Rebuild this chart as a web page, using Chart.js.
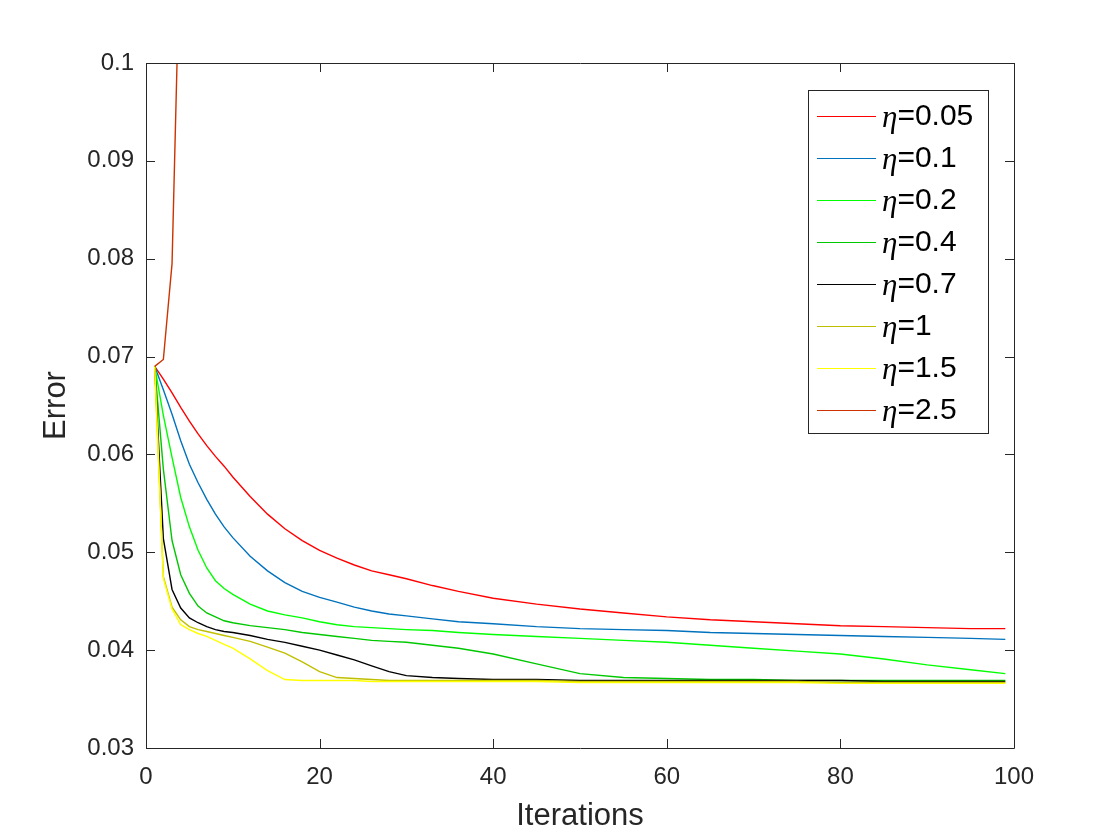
<!DOCTYPE html>
<html>
<head>
<meta charset="utf-8">
<script src="https://cdn.jsdelivr.net/npm/chart.js@4.4.1/dist/chart.umd.min.js"></script>
<style>
  html, body { margin: 0; padding: 0; background: #fff; }
  #wrap { width: 1120px; height: 840px; }
</style>
</head>
<body>
<div id="wrap"><canvas id="chart-line" width="1120" height="840"></canvas></div>
<script>
var iterations = [1,2,3,4,5,6,7,8,9,10,12,14,16,18,20,22,24,26,28,30,33,36,40,45,50,55,60,65,70,75,80,85,90,95,99];

var err005 = [0.0690,0.0677,0.0663,0.0648,0.0634,0.0621,0.0609,0.0598,0.0588,0.0577,0.0557,0.0539,0.0524,0.0512,0.0502,0.0494,0.0487,0.0481,0.0477,0.0473,0.0466,0.0460,0.0453,0.0447,0.0442,0.0438,0.0434,0.0431,0.0429,0.0427,0.0425,0.0424,0.0423,0.0422,0.0422];
var err01  = [0.0690,0.0666,0.0641,0.0614,0.0590,0.0571,0.0554,0.0539,0.0526,0.0515,0.0496,0.0481,0.0469,0.0460,0.0454,0.0449,0.0444,0.0440,0.0437,0.0435,0.0432,0.0429,0.0427,0.0424,0.0422,0.0421,0.0420,0.0418,0.0417,0.0416,0.0415,0.0414,0.0413,0.0412,0.0411];
var err02  = [0.0690,0.0640,0.0597,0.0556,0.0526,0.0502,0.0484,0.0471,0.0463,0.0457,0.0447,0.0440,0.0436,0.0433,0.0429,0.0426,0.0424,0.0423,0.0422,0.0421,0.0420,0.0418,0.0416,0.0414,0.0412,0.0410,0.0408,0.0405,0.0402,0.0399,0.0396,0.0391,0.0385,0.0380,0.0376];
var err04  = [0.0690,0.0585,0.0512,0.0477,0.0458,0.0445,0.0438,0.0434,0.0430,0.0428,0.0425,0.0423,0.0421,0.0418,0.0416,0.0414,0.0412,0.0410,0.0409,0.0408,0.0405,0.0402,0.0396,0.0386,0.0376,0.0372,0.0371,0.0370,0.0370,0.0369,0.0369,0.0369,0.0369,0.0369,0.0369];
var err07  = [0.0690,0.0514,0.0462,0.0443,0.0433,0.0428,0.0424,0.0421,0.0419,0.0418,0.0415,0.0411,0.0408,0.0404,0.0400,0.0395,0.0390,0.0384,0.0378,0.0374,0.0372,0.0371,0.0370,0.0370,0.0369,0.0369,0.0369,0.0369,0.0369,0.0369,0.0369,0.0368,0.0368,0.0368,0.0368];
var err1   = [0.0690,0.0475,0.0444,0.0431,0.0424,0.0421,0.0419,0.0417,0.0415,0.0413,0.0409,0.0403,0.0397,0.0388,0.0378,0.0372,0.0371,0.0370,0.0369,0.0369,0.0369,0.0369,0.0369,0.0369,0.0368,0.0368,0.0368,0.0368,0.0368,0.0368,0.0367,0.0367,0.0367,0.0367,0.0367];
var err15  = [0.0690,0.0473,0.0442,0.0426,0.0421,0.0417,0.0414,0.0410,0.0406,0.0402,0.0391,0.0379,0.0370,0.0369,0.0369,0.0369,0.0369,0.0368,0.0368,0.0368,0.0368,0.0368,0.0368,0.0368,0.0367,0.0367,0.0367,0.0367,0.0367,0.0367,0.0366,0.0366,0.0366,0.0366,0.0366];
// eta = 2.5 diverges and leaves the axes after a few iterations
var iterations25 = [1,2,3,4];
var err25  = [0.0690,0.0697,0.0795,0.1152];

var etaLabels = ['0.05','0.1','0.2','0.4','0.7','1','1.5','2.5'];
var yTickLabels = ['0.03','0.04','0.05','0.06','0.07','0.08','0.09','0.1'];
var xTickLabels = ['0','20','40','60','80','100'];

var lineColors = ['#ff0000','#0072bd','#00ff00','#00c800','#000000','#bfbf00','#ffff00','#cc3300'];
var axisColor = '#262626';

function toPoints(xs, ys) {
  return xs.map(function (x, i) { return {x: x, y: ys[i]}; });
}

var seriesData = [
  toPoints(iterations, err005),
  toPoints(iterations, err01),
  toPoints(iterations, err02),
  toPoints(iterations, err04),
  toPoints(iterations, err07),
  toPoints(iterations, err1),
  toPoints(iterations, err15),
  toPoints(iterations25, err25)
];

var datasets = seriesData.map(function (pts, i) {
  return {
    label: '\u03b7=' + etaLabels[i],
    data: pts,
    borderColor: lineColors[i],
    backgroundColor: lineColors[i],
    borderWidth: 1.4,
    pointRadius: 0,
    tension: 0,
    fill: false,
    order: -i  // later series on top, like the original
  };
});

// box round the axes with inward ticks on all four sides
var matlabBox = {
  id: 'matlabBox',
  afterDatasetsDraw: function (chart) {
    var ctx = chart.ctx, a = chart.chartArea;
    var xs = chart.scales.x, ys = chart.scales.y;
    var tl = 9;
    ctx.save();
    ctx.strokeStyle = axisColor;
    ctx.lineWidth = 1;
    ctx.beginPath();
    ctx.rect(Math.round(a.left) + 0.5, Math.round(a.top) + 0.5,
             Math.round(a.right - a.left), Math.round(a.bottom - a.top));
    xs.ticks.forEach(function (t) {
      var px = Math.round(xs.getPixelForValue(t.value)) + 0.5;
      ctx.moveTo(px, a.bottom); ctx.lineTo(px, a.bottom - tl);
      ctx.moveTo(px, a.top); ctx.lineTo(px, a.top + tl);
    });
    ys.ticks.forEach(function (t) {
      var py = Math.round(ys.getPixelForValue(t.value)) + 0.5;
      ctx.moveTo(a.left, py); ctx.lineTo(a.left + tl, py);
      ctx.moveTo(a.right, py); ctx.lineTo(a.right - tl, py);
    });
    ctx.stroke();
    ctx.restore();
  }
};

// legend box in the upper right corner of the axes
var boxLegend = {
  id: 'boxLegend',
  afterDraw: function (chart) {
    var ctx = chart.ctx;
    var bx = 808.5, by = 90.5, bw = 180, bh = 343;
    var rowTop = 116, rowGap = 42;
    ctx.save();
    ctx.fillStyle = '#ffffff';
    ctx.fillRect(bx, by, bw, bh);
    ctx.strokeStyle = axisColor;
    ctx.lineWidth = 1;
    ctx.strokeRect(bx, by, bw, bh);
    ctx.textBaseline = 'middle';
    chart.data.datasets.forEach(function (ds, i) {
      var yy = rowTop + i * rowGap;
      ctx.strokeStyle = ds.borderColor;
      ctx.lineWidth = 1.2;
      ctx.beginPath();
      ctx.moveTo(817, yy + 0.5); ctx.lineTo(876, yy + 0.5);
      ctx.stroke();
      ctx.fillStyle = '#000000';
      ctx.font = 'italic 31px "Liberation Serif", "DejaVu Serif", serif';
      ctx.fillText('\u03b7', 882, yy + 3);
      var w = ctx.measureText('\u03b7').width;
      ctx.font = '30px "Liberation Sans", Arial, sans-serif';
      ctx.fillText('=' + etaLabels[i], 882 + w, yy + 1);
    });
    ctx.restore();
  }
};

var tickFont = { size: 24, family: '"Liberation Sans", Arial, sans-serif' };
var titleFont = { size: 31, family: '"Liberation Sans", Arial, sans-serif' };

new Chart(document.getElementById('chart-line').getContext('2d'), {
  type: 'line',
  data: { datasets: datasets },
  plugins: [matlabBox, boxLegend],
  options: {
    responsive: false,
    animation: false,
    layout: { padding: { top: 63, right: 106, left: 0, bottom: 0 } },
    plugins: {
      legend: { display: false },
      tooltip: { enabled: false }
    },
    scales: {
      x: {
        type: 'linear',
        min: 0,
        max: 100,
        afterFit: function (s) { s.height = 92; },
        grid: { display: false, drawTicks: false },
        border: { display: false },
        ticks: {
          stepSize: 20,
          padding: 15,
          maxRotation: 0,
          color: axisColor,
          font: tickFont,
          callback: function (v, i) { return xTickLabels[i]; }
        },
        title: {
          display: true,
          text: 'Iterations',
          color: axisColor,
          font: titleFont,
          padding: { top: 0, bottom: 5 }
        }
      },
      y: {
        type: 'linear',
        min: 0.03,
        max: 0.1,
        afterFit: function (s) { s.width = 146; },
        grid: { display: false, drawTicks: false },
        border: { display: false },
        ticks: {
          stepSize: 0.01,
          padding: 12,
          color: axisColor,
          font: tickFont,
          callback: function (v, i) { return yTickLabels[i]; }
        },
        title: {
          display: true,
          text: 'Error',
          color: axisColor,
          font: titleFont,
          padding: { top: 38, bottom: 0 }
        }
      }
    }
  }
});
</script>
</body>
</html>
